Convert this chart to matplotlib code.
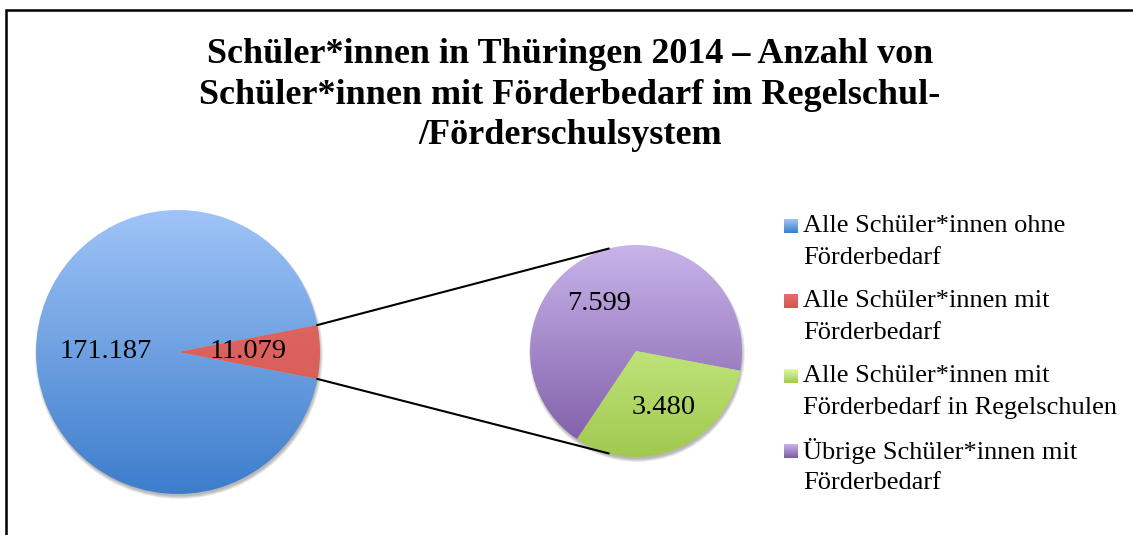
import numpy as np
import matplotlib.pyplot as plt
from matplotlib.patches import Rectangle, Circle
from matplotlib.colors import LinearSegmentedColormap

# data
main_labels = ['Alle Schüler*innen ohne\nFörderbedarf', 'Alle Schüler*innen mit\nFörderbedarf']
main_values = [171187, 11079]
sub_labels = ['Übrige Schüler*innen mit\nFörderbedarf', 'Alle Schüler*innen mit\nFörderbedarf in Regelschulen']
sub_values = [7599, 3480]
legend_labels = [main_labels[0], main_labels[1], sub_labels[1], sub_labels[0]]
title = ('Schüler*innen in Thüringen 2014 – Anzahl von\n'
         'Schüler*innen mit Förderbedarf im Regelschul-\n'
         '/Förderschulsystem')

def fmt(v):
    return f'{v:,}'.replace(',', '.')

# gradient colours (top, bottom)
grad_blue = ('#9fc4f7', '#3d7dcc')
grad_red = ('#e26e69', '#d45650')
grad_purple = ('#c8b4ea', '#7d5aa6')
grad_green = ('#dcfca2', '#a1c94f')

W, H = 1133, 535
fig = plt.figure(figsize=(W / 100, H / 100), dpi=100)
ax = fig.add_axes([0, 0, 1, 1])

serif = 'Liberation Serif'

# frame
ax.add_patch(Rectangle((6, -50), 1300, H - 10 + 50, fill=False, lw=1.8, ec='black'))

def shade(wedges, grads, cx, cy, r):
    for w, (top, bot) in zip(wedges, grads):
        cmap = LinearSegmentedColormap.from_list('g', [bot, top])
        grad = np.linspace(1, 0, 256).reshape(-1, 1)
        im = ax.imshow(grad, cmap=cmap, extent=(cx - r, cx + r, cy - r, cy + r),
                       aspect='auto', origin='upper', zorder=2)
        im.set_clip_path(w)
        w.set_facecolor('none')

def shadow(cx, cy, r):
    for k in range(6):
        ax.add_patch(Circle((cx + 1, cy - 3), r + 2 - k * 0.6, color='#000000',
                            alpha=0.05, lw=0, zorder=1))

# main pie
c1 = (178, H - 352)
r1 = 142
half = 180 * main_values[1] / sum(main_values)
shadow(*c1, r1)
w1, _ = ax.pie(main_values, center=c1, radius=r1, startangle=half,
               counterclock=True, wedgeprops=dict(lw=0), frame=True)
shade(w1, [grad_blue, grad_red], *c1, r1)

# sub pie
c2 = (636, H - 351)
r2 = 106
shadow(*c2, r2)
w2, _ = ax.pie(sub_values, center=c2, radius=r2, startangle=-10.7,
               counterclock=True, wedgeprops=dict(lw=0), frame=True)
shade(w2, [grad_purple, grad_green], *c2, r2)

# connector lines
for a1, a2 in [(half, 105), (-half, 255)]:
    p1 = (c1[0] + r1 * np.cos(np.radians(a1)), c1[1] + r1 * np.sin(np.radians(a1)))
    p2 = (c2[0] + r2 * np.cos(np.radians(a2)), c2[1] + r2 * np.sin(np.radians(a2)))
    ax.plot([p1[0], p2[0]], [p1[1], p2[1]], color='black', lw=1.5, zorder=3)

# value labels
lab_kw = dict(fontsize=20.5, family=serif, ha='center', va='center', zorder=5)
ax.text(106, H - 352, fmt(main_values[0]), **lab_kw)
ax.text(248, H - 352, fmt(main_values[1]), **lab_kw)
ax.text(599, H - 304, fmt(sub_values[0]), **lab_kw)
ax.text(664, H - 408, fmt(sub_values[1]), **lab_kw)

# title
ax.text(570, H - 95, title, fontsize=26, family=serif, fontweight='bold',
        ha='center', va='center', linespacing=1.3)

# legend
leg_colors = [grad_blue, grad_red, grad_green, grad_purple]
for i, (lab, (top, bot)) in enumerate(zip(legend_labels, leg_colors)):
    y = H - 226 - i * 75
    cmap = LinearSegmentedColormap.from_list('g', [bot, top])
    ax.imshow(np.linspace(1, 0, 32).reshape(-1, 1), cmap=cmap,
              extent=(784, 798, y - 7, y + 7), aspect='auto', origin='upper', zorder=4)
    for j, line in enumerate(lab.split('\n')):
        ax.text(803, y - j * 32, line, fontsize=19, family=serif, ha='left',
                va='center')

ax.set_xlim(0, W)
ax.set_ylim(0, H)
ax.set_aspect('equal')
ax.axis('off')

fig.savefig('out.png', dpi=100)
